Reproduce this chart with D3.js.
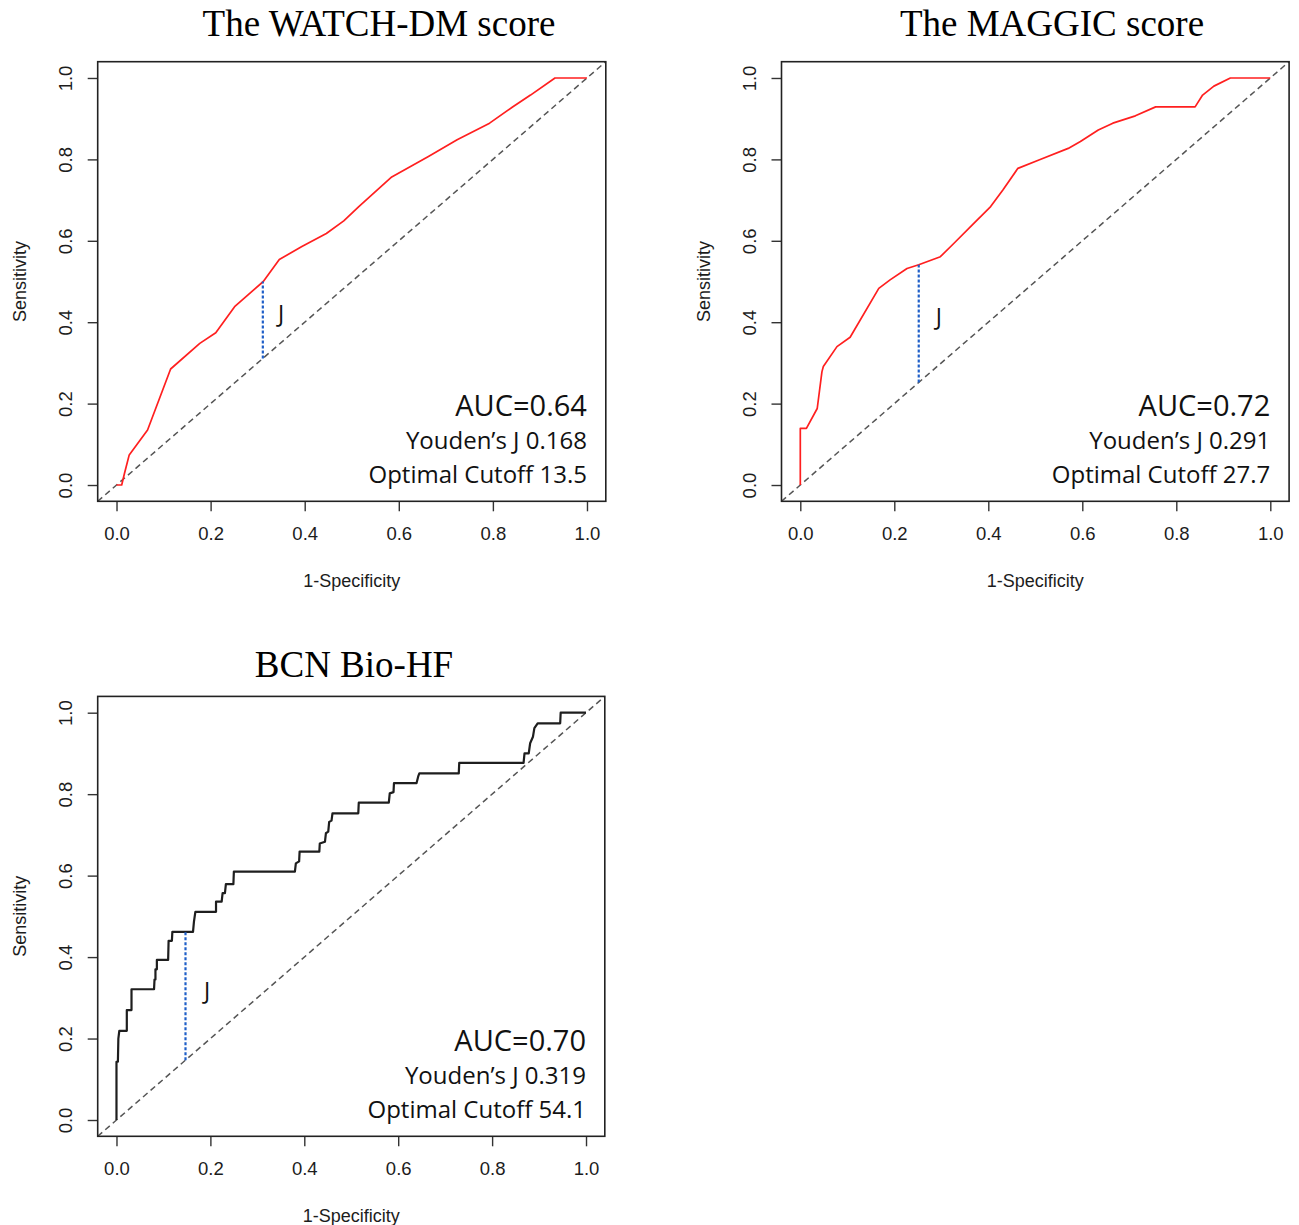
<!DOCTYPE html>
<html>
<head>
<meta charset="utf-8">
<script src="https://cdn.jsdelivr.net/npm/d3@7"></script>
<style>
  body { margin: 0; background: #fff; }
  svg { display: block; }
</style>
</head>
<body>
<script>
// tick values shared by both axes
const xTicks = [0, 0.2, 0.4, 0.6, 0.8, 1.0];
const yTicks = [0, 0.2, 0.4, 0.6, 0.8, 1.0];

// ROC curve: The WATCH-DM score
const watchFpr = [0, 0.011, 0.017, 0.027, 0.05, 0.066, 0.115, 0.177, 0.211, 0.251, 0.312, 0.346, 0.394, 0.446, 0.483, 0.515, 0.585, 0.663, 0.724, 0.793, 0.841, 0.880, 0.932, 1.0];
const watchTpr = [0, 0, 0.029, 0.074, 0.11, 0.135, 0.285, 0.348, 0.374, 0.438, 0.50, 0.554, 0.586, 0.618, 0.649, 0.684, 0.757, 0.807, 0.848, 0.889, 0.928, 0.958, 1.0, 1.0];

// ROC curve: The MAGGIC score
const maggicFpr = [0, 0, 0.013, 0.036, 0.046, 0.049, 0.078, 0.106, 0.167, 0.191, 0.227, 0.252, 0.298, 0.327, 0.366, 0.405, 0.431, 0.463, 0.509, 0.570, 0.596, 0.634, 0.665, 0.713, 0.756, 0.840, 0.856, 0.880, 0.915, 1.0];
const maggicTpr = [0, 0.139, 0.139, 0.188, 0.278, 0.291, 0.340, 0.363, 0.483, 0.504, 0.532, 0.541, 0.561, 0.594, 0.639, 0.684, 0.725, 0.778, 0.799, 0.827, 0.844, 0.872, 0.889, 0.907, 0.929, 0.929, 0.958, 0.980, 1.0, 1.0];

// ROC curve: BCN Bio-HF (step curve)
const bcnFpr = [0, 0, 0.003, 0.004, 0.006, 0.022, 0.022, 0.032, 0.032, 0.080, 0.081, 0.083, 0.083, 0.086, 0.086, 0.110, 0.111, 0.118, 0.119, 0.163, 0.165, 0.168, 0.212, 0.212, 0.224, 0.226, 0.231, 0.233, 0.249, 0.250, 0.380, 0.382, 0.389, 0.390, 0.432, 0.433, 0.444, 0.446, 0.451, 0.453, 0.458, 0.460, 0.515, 0.516, 0.580, 0.582, 0.590, 0.591, 0.639, 0.643, 0.645, 0.729, 0.730, 0.867, 0.869, 0.878, 0.881, 0.887, 0.890, 0.897, 0.945, 0.946, 1.0];
const bcnTpr = [0, 0.143, 0.143, 0.200, 0.219, 0.219, 0.270, 0.270, 0.321, 0.321, 0.345, 0.345, 0.370, 0.370, 0.393, 0.393, 0.440, 0.440, 0.462, 0.462, 0.487, 0.511, 0.511, 0.536, 0.536, 0.557, 0.557, 0.579, 0.579, 0.610, 0.610, 0.630, 0.635, 0.659, 0.659, 0.679, 0.683, 0.704, 0.708, 0.732, 0.735, 0.753, 0.753, 0.779, 0.779, 0.802, 0.805, 0.827, 0.827, 0.845, 0.851, 0.851, 0.877, 0.877, 0.900, 0.900, 0.925, 0.941, 0.962, 0.974, 0.974, 1.0, 1.0];

const titles = ["The WATCH-DM score", "The MAGGIC score", "BCN Bio-HF"];
const aucLabels = ["AUC=0.64", "AUC=0.72", "AUC=0.70"];
const youdenLabels = ["Youden\u2019s J 0.168", "Youden\u2019s J 0.291", "Youden\u2019s J 0.319"];
const cutoffLabels = ["Optimal Cutoff 13.5", "Optimal Cutoff 27.7", "Optimal Cutoff 54.1"];
// optimal point (x) and sensitivity there, for the J segment
const youdenX = [0.311, 0.252, 0.147];
const youdenTop = [0.50, 0.541, 0.462];

const curves = [
  { fpr: watchFpr, tpr: watchTpr, color: "#ff1f1f", width: 1.7 },
  { fpr: maggicFpr, tpr: maggicTpr, color: "#ff1f1f", width: 1.7 },
  { fpr: bcnFpr, tpr: bcnTpr, color: "#1e1e1e", width: 2.2 }
];

// panel layout (pixels)
const panels = [
  { left: 97.7, right: 605.8, top: 61.7, bottom: 501.3, titleX: 379, titleY: 36, jx: 0.35, jy: 0.40 },
  { left: 781.5, right: 1289.1, top: 61.7, bottom: 501.3, titleX: 1052, titleY: 36, jx: 0.295, jy: 0.393 },
  { left: 97.7, right: 604.8, top: 696.4, bottom: 1136.3, titleX: 354, titleY: 677, jx: 0.193, jy: 0.297 }
];

const svg = d3.select("body").append("svg")
  .attr("width", 1299)
  .attr("height", 1225);

const fmt = d3.format(".1f");

panels.forEach(function (p, i) {
  const g = svg.append("g");

  const x = d3.scaleLinear().domain([-0.04, 1.04]).range([p.left, p.right]);
  const y = d3.scaleLinear().domain([-0.04, 1.04]).range([p.bottom, p.top]);

  // title
  g.append("text")
    .attr("x", p.titleX)
    .attr("y", p.titleY)
    .attr("text-anchor", "middle")
    .style("font-family", "'Liberation Serif', 'Times New Roman', serif")
    .style("font-size", "37px")
    .style("fill", "#000")
    .text(titles[i]);

  // x axis
  const xa = g.append("g")
    .attr("transform", "translate(0," + p.bottom + ")")
    .call(d3.axisBottom(x).tickValues(xTicks).tickSize(10).tickPadding(16).tickFormat(fmt));
  xa.select(".domain").remove();
  xa.selectAll("line").attr("stroke", "#333").attr("stroke-width", 1.4);
  xa.selectAll("text")
    .style("font-family", "'Liberation Sans', Arial, sans-serif")
    .style("font-size", "18.5px")
    .style("fill", "#1c1c1c");

  // y axis, labels turned like base R
  const ya = g.append("g")
    .attr("transform", "translate(" + p.left + ",0)")
    .call(d3.axisLeft(y).tickValues(yTicks).tickSize(10).tickFormat(fmt));
  ya.select(".domain").remove();
  ya.selectAll("line").attr("stroke", "#333").attr("stroke-width", 1.4);
  ya.selectAll("text")
    .attr("transform", "rotate(-90)")
    .attr("x", 0)
    .attr("y", -32)
    .attr("dy", "0.35em")
    .attr("text-anchor", "middle")
    .style("font-family", "'Liberation Sans', Arial, sans-serif")
    .style("font-size", "18.5px")
    .style("fill", "#1c1c1c");

  // axis titles
  g.append("text")
    .attr("x", (p.left + p.right) / 2)
    .attr("y", p.bottom + 86)
    .attr("text-anchor", "middle")
    .style("font-family", "'Liberation Sans', Arial, sans-serif")
    .style("font-size", "18px")
    .style("fill", "#1c1c1c")
    .text("1-Specificity");

  g.append("text")
    .attr("transform", "translate(" + (p.left - 78) + "," + ((p.top + p.bottom) / 2) + ") rotate(-90)")
    .attr("dy", "0.35em")
    .attr("text-anchor", "middle")
    .style("font-family", "'Liberation Sans', Arial, sans-serif")
    .style("font-size", "18px")
    .style("fill", "#1c1c1c")
    .text("Sensitivity");

  // reference diagonal
  g.append("line")
    .attr("x1", x(-0.04)).attr("y1", y(-0.04))
    .attr("x2", x(1.04)).attr("y2", y(1.04))
    .attr("stroke", "#555")
    .attr("stroke-width", 1.5)
    .attr("stroke-dasharray", "6,4");

  // ROC curve
  const c = curves[i];
  const pts = c.fpr.map((f, k) => [f, c.tpr[k]]);
  g.append("path")
    .datum(pts)
    .attr("fill", "none")
    .attr("stroke", c.color)
    .attr("stroke-width", c.width)
    .attr("stroke-linejoin", "round")
    .attr("d", d3.line().x(d => x(d[0])).y(d => y(d[1])));

  // Youden J segment
  g.append("line")
    .attr("x1", x(youdenX[i])).attr("y1", y(youdenX[i]))
    .attr("x2", x(youdenX[i])).attr("y2", y(youdenTop[i]))
    .attr("stroke", "#1f5fc8")
    .attr("stroke-width", 2.2)
    .attr("stroke-dasharray", "3,2");

  g.append("text")
    .attr("x", x(p.jx))
    .attr("y", y(p.jy))
    .attr("text-anchor", "middle")
    .style("font-family", "'Open Sans', sans-serif")
    .style("font-size", "23px")
    .style("fill", "#111")
    .text("J");

  // stats
  const ann = [
    { t: aucLabels[i], v: 0.17, s: 29 },
    { t: youdenLabels[i], v: 0.088, s: 24 },
    { t: cutoffLabels[i], v: 0.004, s: 24 }
  ];
  ann.forEach(function (a) {
    g.append("text")
      .attr("x", x(1.0))
      .attr("y", y(a.v))
      .attr("text-anchor", "end")
      .style("font-family", "'Open Sans', sans-serif")
      .style("font-size", a.s + "px")
      .style("fill", "#111")
      .text(a.t);
  });

  // plot box
  g.append("rect")
    .attr("x", p.left)
    .attr("y", p.top)
    .attr("width", p.right - p.left)
    .attr("height", p.bottom - p.top)
    .attr("fill", "none")
    .attr("stroke", "#222")
    .attr("stroke-width", 1.6);
});
</script>
</body>
</html>
